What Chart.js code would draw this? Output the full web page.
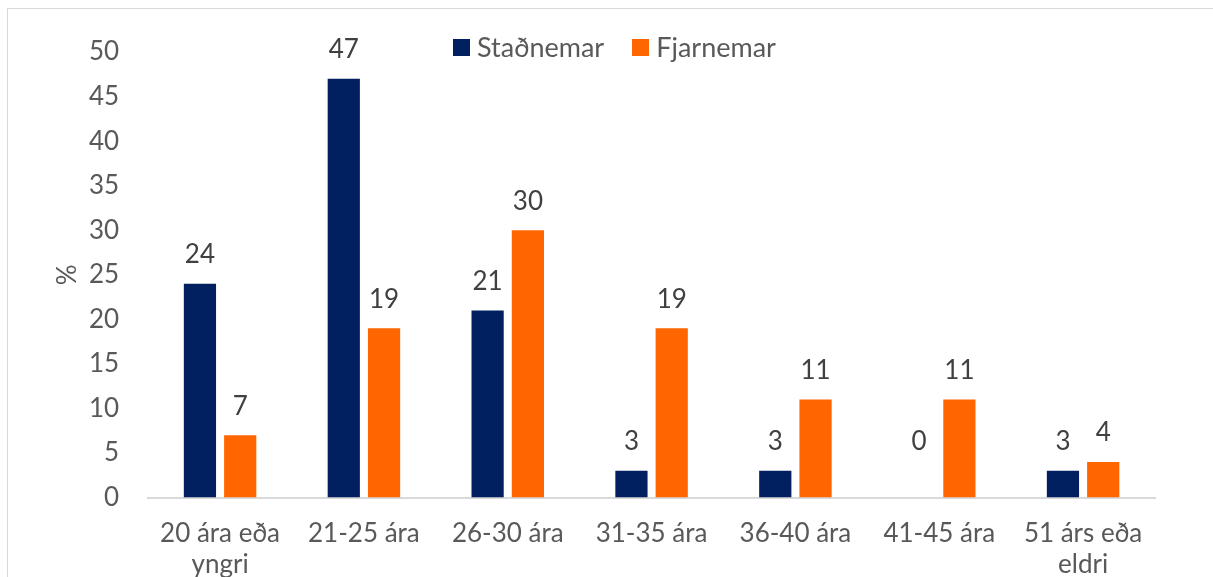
<!DOCTYPE html>
<html>
<head>
<meta charset="utf-8">
<script src="https://cdn.jsdelivr.net/npm/chart.js@4"></script>
<style>
  body { margin: 0; background: #fff; overflow: hidden; }
  #wrap { position: absolute; left: 0; top: 0; width: 1213px; height: 600px; }
  #frame { position: absolute; left: 7px; top: 8px; width: 1240px; height: 600px;
           border: 1px solid #d9d9d9; pointer-events: none; }
  #legend { position: absolute; top: 30px; left: 453px; font-family: Lato, sans-serif;
            font-size: 27px; color: #595959; display: flex; gap: 28px; white-space: nowrap; }
  #legend span.box { display: inline-block; width: 17px; height: 17px; margin-right: 7px;
                     vertical-align: 1px; }
</style>
</head>
<body>
<div id="frame"></div>
<div id="wrap"><canvas id="grafico" width="1213" height="600"></canvas></div>
<div id="legend"></div>
<script>
const flokkar = [["20 ára eða", "yngri"], "21-25 ára", "26-30 ára", "31-35 ára", "36-40 ára", "41-45 ára", ["51 árs eða", "eldri"]];
const stadnemar = [24, 47, 21, 3, 3, 0, 3];
const fjarnemar = [7, 19, 30, 19, 11, 11, 4];
const litir = ["#002060", "#ff6600"];
const nofn = ["Staðnemar", "Fjarnemar"];
const asTitill = "%";

const textLitur = "#595959";
const letur = "Lato, sans-serif";

// merki yfir súlum + titill á y-ás
const gildaMerki = {
  id: "gildaMerki",
  afterDatasetsDraw(chart) {
    const c = chart.ctx;
    const y = chart.scales.y;
    c.save();
    c.font = "26px " + letur;
    c.fillStyle = "#404040";
    c.textAlign = "center";
    c.textBaseline = "middle";
    chart.data.datasets.forEach((ds, i) => {
      chart.getDatasetMeta(i).data.forEach((bar, j) => {
        const top = Math.min(bar.y, y.getPixelForValue(3));
        c.fillText(String(ds.data[j]), bar.x, top - 29);
      });
    });
    c.fillStyle = textLitur;
    c.translate(68, (chart.chartArea.top + chart.chartArea.bottom) / 2);
    c.rotate(-Math.PI / 2);
    c.fillText(asTitill, 0, 0);
    c.restore();
  },
};

new Chart(document.getElementById("grafico").getContext("2d"), {
  type: "bar",
  data: {
    labels: flokkar,
    datasets: [
      { label: nofn[0], data: stadnemar, backgroundColor: litir[0] },
      { label: nofn[1], data: fjarnemar, backgroundColor: litir[1] },
    ],
  },
  options: {
    responsive: false,
    animation: false,
    layout: { padding: { top: 52, right: 58, bottom: 0, left: 60 } },
    datasets: { bar: { categoryPercentage: 0.56, barPercentage: 0.8 } },
    plugins: { legend: { display: false }, tooltip: { enabled: false } },
    scales: {
      x: {
        grid: { display: false, drawTicks: false },
        border: { color: "#d9d9d9", width: 2 },
        ticks: { color: textLitur, font: { family: letur, size: 26 }, padding: 20,
                 autoSkip: false, maxRotation: 0 },
      },
      y: {
        min: 0, max: 50,
        grid: { display: false, drawTicks: false },
        border: { display: false },
        ticks: { stepSize: 5, color: textLitur, font: { family: letur, size: 26 }, padding: 29 },
      },
    },
  },
  plugins: [gildaMerki],
});

document.getElementById("legend").innerHTML = nofn
  .map((n, i) => '<div><span class="box" style="background:' + litir[i] + '"></span>' + n + "</div>")
  .join("");
</script>
</body>
</html>
